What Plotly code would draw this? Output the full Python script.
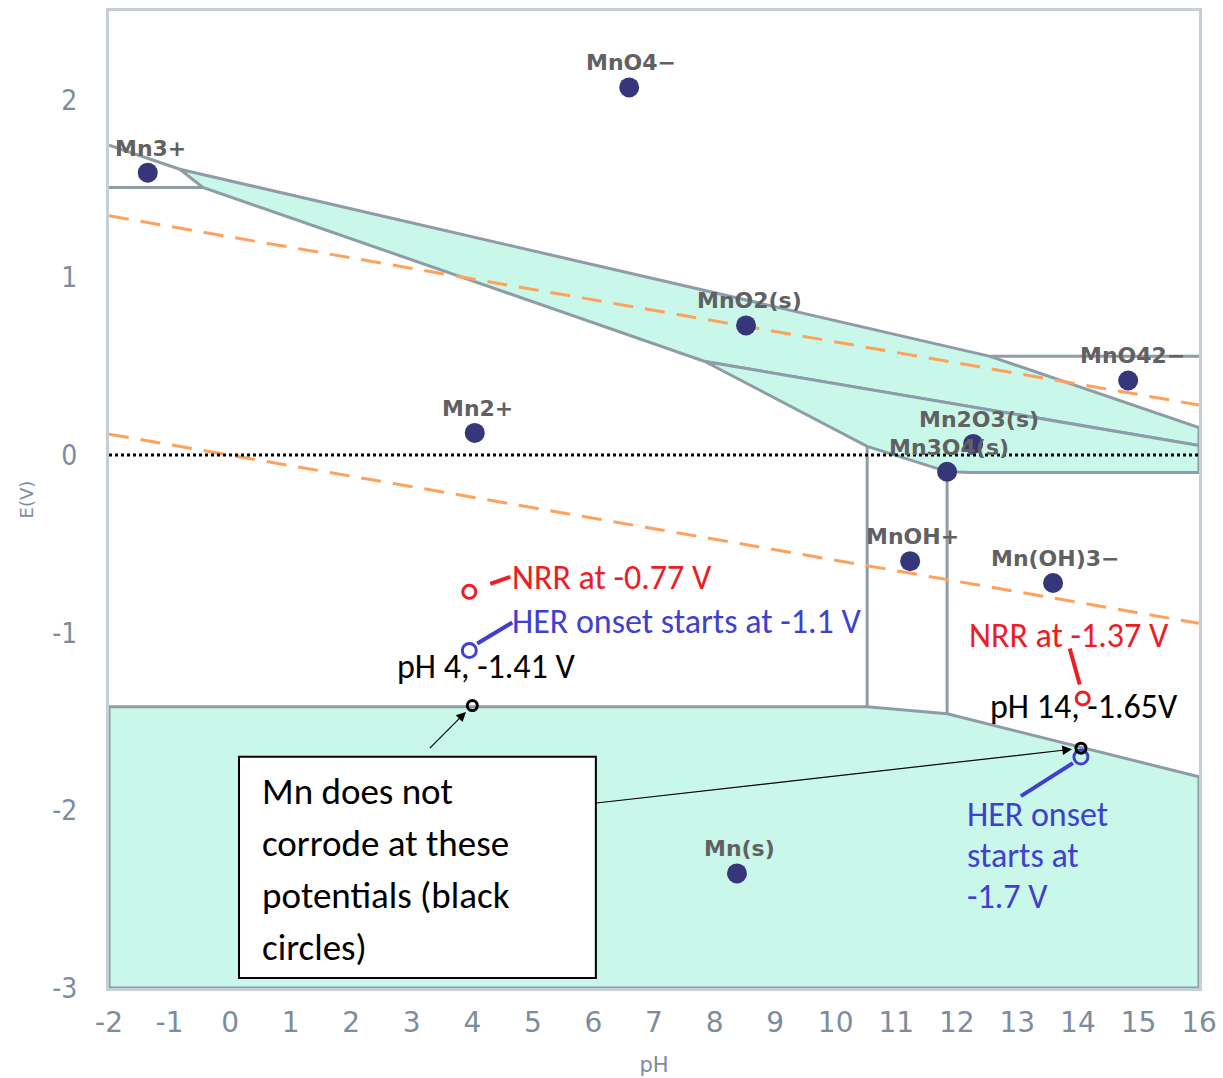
import plotly.graph_objects as go

# ---- axis ticks ----
ph_ticks = list(range(-2, 17))
ph_ticktext = [str(v) for v in ph_ticks]
e_ticks = [-3, -2, -1, 0, 1, 2]
e_ticktext = [str(v) for v in e_ticks]

# ---- stable species (label position inside its domain) ----
species_names = ["MnO4−", "Mn3+", "MnO2(s)", "MnO42−", "Mn2+", "Mn2O3(s)",
                 "Mn3O4(s)", "MnOH+", "Mn(OH)3−", "Mn(s)"]
species_ph = [6.59, -1.36, 8.52, 14.83, 4.04, 12.27, 11.84, 11.23, 13.59, 8.37]
species_e = [2.07, 1.59, 0.73, 0.42, 0.125, 0.063, -0.094, -0.597, -0.72, -2.355]
label_xshift = [2, 3, 3, 4, 3, 6, 2, 2, 2, 3]

# ---- domain boundaries (pH, E) ----
# solid domains (filled)
mno2_ph = [-0.83, 12.55, 16.0, 16.0, 7.84, -0.45, -0.83]
mno2_e = [1.609, 0.556, 0.155, 0.054, 0.527, 1.507, 1.609]
mn2o3_ph = [7.84, 16.0, 16.0, 12.2, 11.84, 10.52, 7.84]
mn2o3_e = [0.527, 0.054, -0.098, -0.098, -0.093, 0.049, 0.527]
mn_s_ph = [-2.0, 10.52, 11.84, 16.0, 16.0, -2.0, -2.0]
mn_s_e = [-1.417, -1.417, -1.456, -1.811, -3.0, -3.0, -1.417]
# boundaries between aqueous species
mno4_mn3_ph = [-2.0, -0.83]
mno4_mn3_e = [1.744, 1.609]
mn3_mn2_ph = [-2.0, -0.45]
mn3_mn2_e = [1.507, 1.507]
mno4_mno42_ph = [12.55, 16.0]
mno4_mno42_e = [0.556, 0.556]
mn2_mnoh_ph = [10.52, 10.52]
mn2_mnoh_e = [0.049, -1.417]
mnoh_mnoh3_ph = [11.84, 11.84]
mnoh_mnoh3_e = [-0.093, -1.456]

# ---- water stability lines ----
water_ph = [-2, 16]
o2_e = [1.347, 0.282]
h2_e = [0.118, -0.947]
zero_ph = [-2, 16]
zero_e = [0, 0]

# ---- measured potentials ----
nrr_ph = [3.95, 14.08]
nrr_e = [-0.77, -1.37]
her_ph = [3.95, 14.05]
her_e = [-1.1, -1.7]
nocorr_ph = [4.0, 14.05]
nocorr_e = [-1.41, -1.65]

FILL = "#c9f7ea"
EDGE = "#8e9ca8"
NAVY = "#36367a"
AXIS = "#7d8b9e"
RED = "#ee1c25"
BLUE = "#4040d0"
NOTE_FONT = "Carlito, Lato, Calibri, sans-serif"

fig = go.Figure()


def region(ph, e, filled):
    fig.add_trace(go.Scatter(
        x=ph, y=e, mode="lines",
        fill="toself" if filled else None,
        fillcolor=FILL,
        line=dict(color=EDGE, width=3),
        hoverinfo="skip", showlegend=False))


region(mno2_ph, mno2_e, True)
region(mn2o3_ph, mn2o3_e, True)
region(mn_s_ph, mn_s_e, True)
for bx, by in [(mno4_mn3_ph, mno4_mn3_e), (mn3_mn2_ph, mn3_mn2_e),
               (mno4_mno42_ph, mno4_mno42_e), (mn2_mnoh_ph, mn2_mnoh_e),
               (mnoh_mnoh3_ph, mnoh_mnoh3_e)]:
    region(bx, by, False)

# water lines
for we in (o2_e, h2_e):
    fig.add_trace(go.Scatter(
        x=water_ph, y=we, mode="lines",
        line=dict(color="#ffa15a", width=3, dash="20px,12px"),
        hoverinfo="skip", showlegend=False))
fig.add_trace(go.Scatter(
    x=zero_ph, y=zero_e, mode="lines",
    line=dict(color="black", width=3, dash="3px,3px"),
    hoverinfo="skip", showlegend=False))

# species markers and names
fig.add_trace(go.Scatter(
    x=species_ph, y=species_e, mode="markers",
    marker=dict(color=NAVY, size=20),
    showlegend=False))
for name, px_, ey, xs in zip(species_names, species_ph, species_e, label_xshift):
    fig.add_annotation(
        x=px_, y=ey, text=name,
        showarrow=False, yanchor="bottom", yshift=10, xshift=xs,
        font=dict(family="DejaVu Sans", size=22, color="#616161", weight="bold"))

# measured points: open circles
fig.add_trace(go.Scatter(
    x=nrr_ph, y=nrr_e, mode="markers",
    marker=dict(symbol="circle-open", size=13, color=RED, line=dict(width=3)),
    showlegend=False))
fig.add_trace(go.Scatter(
    x=her_ph, y=her_e, mode="markers",
    marker=dict(symbol="circle-open", size=14, color=BLUE, line=dict(width=3)),
    showlegend=False))
fig.add_trace(go.Scatter(
    x=nocorr_ph, y=nocorr_e, mode="markers",
    marker=dict(symbol="circle-open", size=10, color="black", line=dict(width=3)),
    showlegend=False))


def leader(x, y, p0, p1, color):
    fig.add_shape(type="line", xref="x", yref="y",
                  xsizemode="pixel", ysizemode="pixel",
                  xanchor=x, yanchor=y,
                  x0=p0[0], y0=p0[1], x1=p1[0], y1=p1[1],
                  line=dict(color=color, width=4))


leader(nrr_ph[0], nrr_e[0], (21, 8), (41, 15), RED)
leader(her_ph[0], her_e[0], (8, 7), (43, 28), BLUE)
leader(nrr_ph[1], nrr_e[1], (-3, 14), (-13, 50), RED)
leader(her_ph[1], her_e[1], (-8, -6), (-60, -39), BLUE)


def note(x, y, text, color, size=34, anchor="left"):
    fig.add_annotation(x=x, y=y, text=text, showarrow=False,
                       xanchor=anchor, yanchor="middle",
                       font=dict(family=NOTE_FONT, size=size, color=color))


note(4.62, -0.69, "NRR at -0.77 V", RED)
note(4.62, -0.938, "HER onset starts at -1.1 V", BLUE)
note(4.24, -1.19, "pH 4, -1.41 V", "black", anchor="center")
note(12.17, -1.017, "NRR at -1.37 V", RED)
note(12.51, -1.417, "pH 14, -1.65V", "black")
for yy, t in zip([-2.025, -2.256, -2.487], ["HER onset", "starts at", "-1.7 V"]):
    note(12.13, yy, t, BLUE)

# call-out box
fig.add_shape(type="rect", xref="x", yref="y",
              x0=0.147, x1=6.04, y0=-2.944, y1=-1.698,
              fillcolor="white", line=dict(color="black", width=2))
for yy, t in zip([-1.896, -2.189, -2.482, -2.770],
                 ["Mn does not", "corrode at these", "potentials (black", "circles)"]):
    note(0.49, yy, t, "black", size=37)

# arrows from the box to the black circles
fig.add_annotation(x=nocorr_ph[0], y=nocorr_e[0], text="", showarrow=True,
                   axref="pixel", ayref="pixel", ax=-44, ay=44,
                   arrowhead=2, arrowsize=1.6, arrowwidth=1.2,
                   arrowcolor="black", standoff=9)
fig.add_annotation(x=nocorr_ph[1], y=nocorr_e[1], text="", showarrow=True,
                   axref="pixel", ayref="pixel", ax=-486, ay=55,
                   arrowhead=2, arrowsize=1.6, arrowwidth=1.2,
                   arrowcolor="black", standoff=9)

fig.update_layout(
    width=1223, height=1078,
    margin=dict(l=109, r=24, t=11, b=90),
    plot_bgcolor="white", paper_bgcolor="white",
    font=dict(family="DejaVu Sans", color=AXIS),
    showlegend=False,
)
fig.update_xaxes(
    range=[-2, 16], tickvals=ph_ticks, ticktext=ph_ticktext,
    tickfont=dict(family="DejaVu Sans", size=28, color=AXIS),
    showgrid=False, zeroline=False, automargin=False,
    showline=True, mirror=True, linecolor="#c6ced8", linewidth=3,
    ticks="outside", ticklen=7, tickcolor="rgba(0,0,0,0)",
    title=dict(text="pH", font=dict(size=21, color=AXIS), standoff=20),
)
fig.update_yaxes(
    range=[-3, 2.5], tickvals=e_ticks, ticktext=e_ticktext,
    tickfont=dict(family="DejaVu Sans Condensed, DejaVu Sans", size=28, color=AXIS),
    showgrid=False, zeroline=False, automargin=False,
    showline=True, mirror=True, linecolor="#c6ced8", linewidth=3,
    ticks="outside", ticklen=23, tickcolor="rgba(0,0,0,0)",
    title=dict(text="E(V)", font=dict(size=18, color=AXIS), standoff=14),
)

fig.write_html("out.html")
